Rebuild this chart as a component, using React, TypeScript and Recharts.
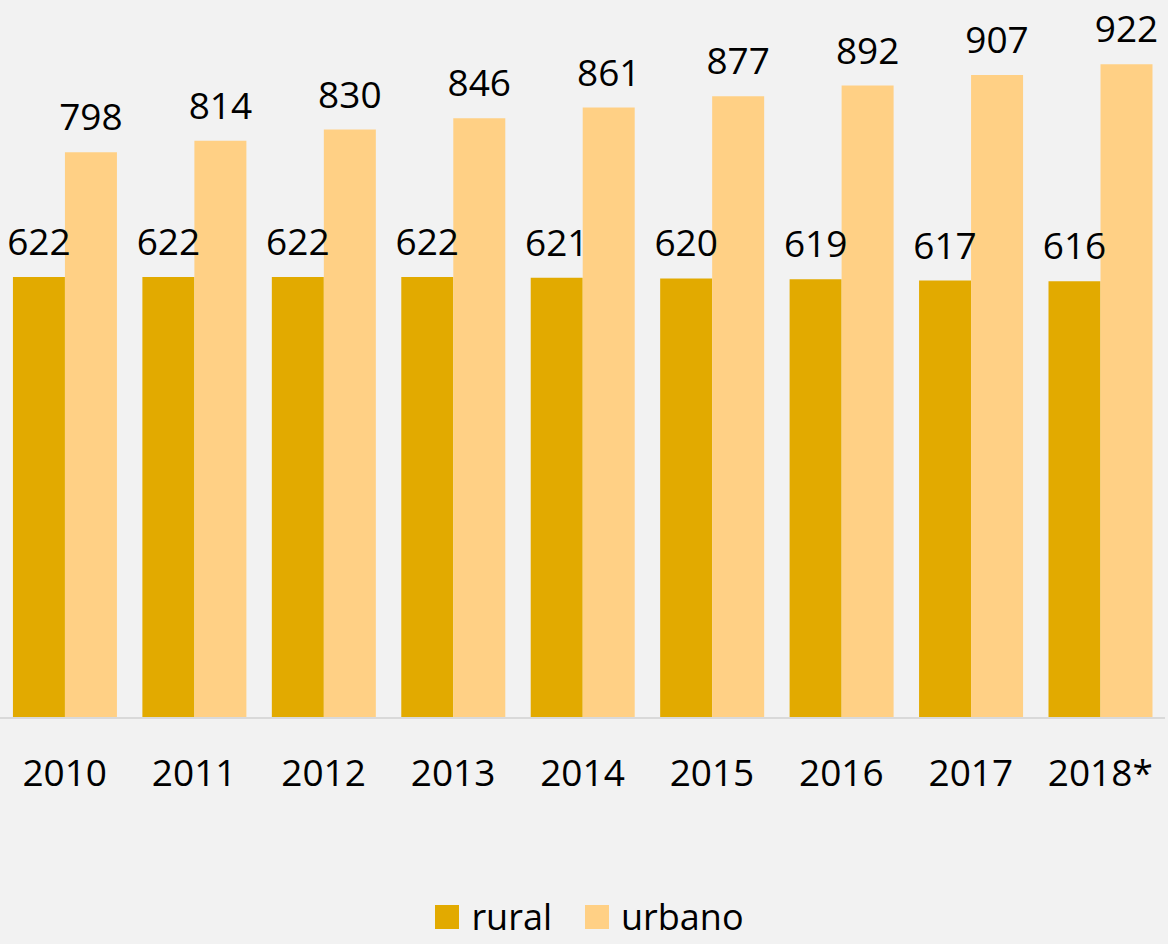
import React from 'react';
import { BarChart, Bar, XAxis, YAxis, Legend, LabelList } from 'recharts';

const years = ['2010', '2011', '2012', '2013', '2014', '2015', '2016', '2017', '2018*'];
const rural = [622, 622, 622, 622, 621, 620, 619, 617, 616];
const urbano = [798, 814, 830, 846, 861, 877, 892, 907, 922];

const chartData = years.map((year, i) => ({
  year,
  rural: rural[i],
  urbano: urbano[i],
}));

const RURAL_COLOR = '#E2AA00';
const URBANO_COLOR = '#FFD085';
const FONT = '"Open Sans", sans-serif';

const renderLegend = () => (
  <div
    style={{
      height: 54,
      display: 'flex',
      justifyContent: 'center',
      alignItems: 'center',
      fontFamily: FONT,
      fontSize: 36,
      color: '#000',
      lineHeight: '36px',
      paddingLeft: 14,
    }}
  >
    {[
      { name: 'rural', color: RURAL_COLOR },
      { name: 'urbano', color: URBANO_COLOR },
    ].map((item, i) => (
      <div key={item.name} style={{ display: 'flex', alignItems: 'center', marginLeft: i === 0 ? 0 : 33 }}>
        <div style={{ width: 24, height: 24, background: item.color, marginRight: 12 }} />
        <span style={{ lineHeight: '36px' }}>{item.name}</span>
      </div>
    ))}
  </div>
);

const App: React.FC = () => {
  return (
    <div style={{ position: 'absolute', top: 0, left: 0, width: 1168, height: 944, background: '#F2F2F2', overflow: 'hidden' }}>
      <BarChart
        width={1168}
        height={944}
        data={chartData}
        margin={{ top: 9, right: 3, left: 0, bottom: 0 }}
        barCategoryGap="10%"
        barGap={0}
      >
        <XAxis
          dataKey="year"
          height={172}
          tickSize={0}
          tickMargin={42}
          axisLine={{ stroke: '#D9D9D9', strokeWidth: 2 }}
          tickLine={false}
          interval={0}
          tick={{ fill: '#000', fontSize: 37, fontFamily: FONT }}
        />
        <YAxis hide domain={[0, 1000]} />
        <Legend verticalAlign="bottom" content={renderLegend} />
        <Bar dataKey="rural" name="rural" fill={RURAL_COLOR} isAnimationActive={false}>
          <LabelList dataKey="rural" position="top" offset={22} fill="#000" fontSize={37} fontFamily={FONT} />
        </Bar>
        <Bar dataKey="urbano" name="urbano" fill={URBANO_COLOR} isAnimationActive={false}>
          <LabelList dataKey="urbano" position="top" offset={22} fill="#000" fontSize={37} fontFamily={FONT} />
        </Bar>
      </BarChart>
    </div>
  );
};

export default App;
